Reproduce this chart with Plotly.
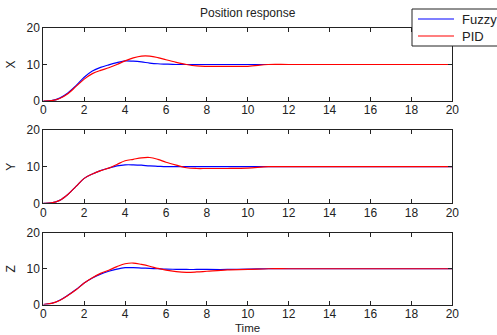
import plotly.graph_objects as go
from plotly.subplots import make_subplots

t = [0, 0.4, 0.8, 1.2, 1.6, 2.0, 2.4, 2.8, 3.2, 3.6, 4.0, 4.4, 4.8, 5.2, 5.6, 6.0,
     6.5, 7.0, 7.5, 8.0, 9.0, 10.0, 11.0, 12.0, 14.0, 16.0, 18.0, 20.0]

x_fuzzy = [0, 0.1, 0.8, 2.2, 4.2, 6.5, 8.2, 9.2, 9.9, 10.5, 11.0, 10.9, 10.7, 10.4, 10.2, 10.1,
           10.0, 10.0, 10.0, 10.0, 10.0, 10.0, 10.0, 10.0, 10.0, 10.0, 10.0, 10.0]
x_pid = [0, 0.1, 0.7, 2.0, 4.0, 6.0, 7.5, 8.4, 9.1, 10.0, 11.0, 11.8, 12.3, 12.3, 11.9, 11.3,
         10.6, 10.0, 9.6, 9.5, 9.5, 9.5, 10.0, 10.0, 10.0, 10.0, 10.0, 10.0]

y_fuzzy = [0, 0.1, 0.8, 2.4, 4.6, 6.8, 8.0, 8.9, 9.6, 10.2, 10.5, 10.5, 10.4, 10.2, 10.1, 10.0,
           10.0, 10.0, 10.0, 10.0, 10.0, 10.0, 10.0, 10.0, 10.0, 10.0, 10.0, 10.0]
y_pid = [0, 0.1, 0.8, 2.4, 4.6, 6.8, 8.0, 8.9, 9.6, 10.6, 11.6, 12.0, 12.4, 12.5, 12.0, 11.2,
         10.4, 9.7, 9.5, 9.5, 9.5, 9.6, 10.0, 10.0, 10.0, 10.0, 10.0, 10.0]

z_fuzzy = [0, 0.3, 1.2, 2.6, 4.2, 6.0, 7.4, 8.5, 9.3, 9.9, 10.3, 10.3, 10.2, 10.1, 10.0, 9.9,
           9.85, 9.8, 9.8, 9.8, 9.8, 9.9, 10.0, 10.0, 10.0, 10.0, 10.0, 10.0]
z_pid = [0, 0.3, 1.1, 2.5, 4.1, 6.0, 7.5, 8.7, 9.6, 10.6, 11.4, 11.6, 11.2, 10.7, 10.1, 9.6,
         9.2, 9.0, 9.1, 9.3, 9.7, 9.8, 10.0, 10.0, 10.0, 10.0, 10.0, 10.0]

x_ticks = list(range(0, 21, 2))
y_ticks = [0, 10, 20]
row_labels = ["X", "Y", "Z"]
series_names = ["Fuzzy", "PID"]
series = [(x_fuzzy, x_pid), (y_fuzzy, y_pid), (z_fuzzy, z_pid)]

W, H = 497, 335
fig = make_subplots(rows=3, cols=1)

blue = "#0000ff"
red = "#ff0000"
colors = [blue, red]
for i, pair in enumerate(series):
    r = i + 1
    for k, vals in enumerate(pair):
        fig.add_trace(go.Scatter(x=t, y=vals, mode="lines", name=series_names[k],
                                 line=dict(color=colors[k], width=1.2), showlegend=False,
                                 line_shape="spline"), row=r, col=1)

FAM = "Liberation Sans, Arial, sans-serif"
boxes = [(28, 101), (130, 203.3), (233, 304.5)]
x0px, x1px = 43.3, 452.3
font = dict(family=FAM, size=12, color="#222")
for i, (top, bot) in enumerate(boxes):
    r = i + 1
    fig.update_xaxes(row=r, col=1, domain=[x0px / W, x1px / W], range=[0, 20],
                     tickvals=x_ticks, ticks="inside", ticklen=4, tickcolor="#222",
                     showline=True, linecolor="#222", linewidth=1, mirror="ticks",
                     showgrid=False, zeroline=False, tickfont=font,
                     ticklabelstandoff=-2)
    fig.update_yaxes(row=r, col=1, domain=[1 - bot / H, 1 - top / H], range=[0, 20],
                     tickvals=y_ticks, ticks="inside", ticklen=4, tickcolor="#222",
                     showline=True, linecolor="#222", linewidth=1, mirror="ticks",
                     showgrid=False, zeroline=False, tickfont=font,
                     title=dict(text=row_labels[i], font=font, standoff=8))

fig.add_annotation(text="Time", x=247 / W, y=0.0, xref="paper", yref="paper",
                   showarrow=False, font=dict(family=FAM, size=11.5, color="#222"),
                   xanchor="center", yanchor="bottom", borderpad=0)

fig.add_annotation(text="Position response", x=248 / W, y=1 - 13 / H, xref="paper", yref="paper",
                   showarrow=False, font=dict(family=FAM, size=12, color="#222"),
                   xanchor="center", yanchor="middle")

# manual legend box (MATLAB style), partly clipped on the right as in the reference
fig.add_shape(type="rect", xref="paper", yref="paper",
              x0=412 / W, x1=520 / W, y0=1 - 46 / H, y1=1 - 9 / H,
              line=dict(color="#222", width=1), fillcolor="white", layer="above")
for k, name in enumerate(series_names):
    yy = 1 - (19 + 17 * k) / H
    fig.add_shape(type="line", xref="paper", yref="paper",
                  x0=418 / W, x1=454 / W, y0=yy, y1=yy,
                  line=dict(color=colors[k], width=1.2), layer="above")
    fig.add_annotation(text=name, x=460 / W, y=yy, xref="paper", yref="paper",
                       showarrow=False, xanchor="left", yanchor="middle",
                       font=dict(family=FAM, size=13, color="#222"))

fig.update_layout(
    width=W, height=H,
    margin=dict(l=0, r=0, t=0, b=0, autoexpand=False),
    paper_bgcolor="white", plot_bgcolor="white",
    showlegend=False,
)

fig.write_html("out.html")
